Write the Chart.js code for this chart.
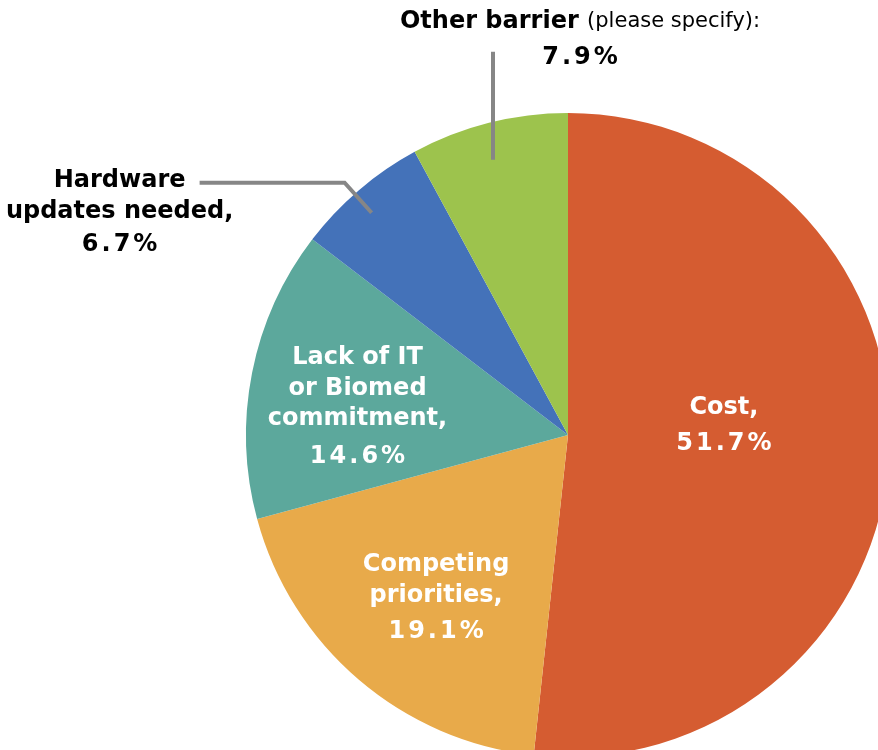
<!DOCTYPE html>
<html>
<head>
<meta charset="utf-8">
<script src="https://cdn.jsdelivr.net/npm/chart.js@4.4.1/dist/chart.umd.min.js"></script>
<style>
  html, body { margin: 0; padding: 0; background: #fff; overflow: hidden; }
  #wrap { position: absolute; left: 0; top: 0; width: 900px; height: 770px; }
</style>
</head>
<body>
<div id="wrap"><canvas id="pie" width="900" height="770"></canvas></div>
<script>
// chart data
var categories = ['Cost', 'Competing priorities', 'Lack of IT or Biomed commitment', 'Hardware updates needed', 'Other barrier'];
var values = [51.7, 19.1, 14.6, 6.7, 7.9];
var sliceColors = ['#D55C31', '#E8AA4A', '#5CA89C', '#4472B9', '#9DC34D'];

// label layout, anchored on each slice's mid angle
var labelSetup = [
  { f: 0.485, color: '#fff', lines: [['Cost,', 0, -36], ['51.7%', 0, 0]] },
  { f: 0.65, color: '#fff', lines: [['Competing', 4, -29], ['priorities,', 4, 2], ['19.1%', 4, 38]] },
  { f: 0.66, color: '#fff', lines: [['Lack of IT', -2, -36], ['or Biomed', -2, -5], ['commitment,', -2, 25], ['14.6%', -2, 63]] },
  { f: 0.92, color: '#000', leader: [[-4, 3], [-31, -27], [-176, -27]],
    lines: [['Hardware', -256, -29], ['updates needed,', -256, 2], ['6.7%', -256, 35]] },
  { f: 0.885, color: '#000', leader: [[-5, 1], [-5, -107]],
    lines: [[['Other barrier ', '(please specify):'], 82, -137], ['7.9%', 82, -101]] }
];

var boldFont = 'bold 24px "DejaVu Sans", Verdana, sans-serif';
var plainFont = '21px "DejaVu Sans", Verdana, sans-serif';

var sliceLabels = {
  id: 'sliceLabels',
  afterDatasetsDraw: function(chart) {
    var ctx = chart.ctx;
    var arcs = chart.getDatasetMeta(0).data;
    arcs.forEach(function(arc, i) {
      var cfg = labelSetup[i];
      var p = arc.getProps(['x', 'y', 'startAngle', 'endAngle', 'outerRadius'], true);
      var mid = (p.startAngle + p.endAngle) / 2;
      var ax = p.x + Math.cos(mid) * p.outerRadius * cfg.f;
      var ay = p.y + Math.sin(mid) * p.outerRadius * cfg.f;
      ctx.save();
      if (cfg.leader) {
        ctx.strokeStyle = '#868686';
        ctx.lineWidth = 4;
        ctx.beginPath();
        cfg.leader.forEach(function(pt, k) {
          if (k === 0) ctx.moveTo(ax + pt[0], ay + pt[1]);
          else ctx.lineTo(ax + pt[0], ay + pt[1]);
        });
        ctx.stroke();
      }
      ctx.fillStyle = cfg.color;
      ctx.textBaseline = 'middle';
      cfg.lines.forEach(function(ln) {
        var tx = ax + ln[1], ty = ay + ln[2];
        if (Array.isArray(ln[0])) {
          ctx.letterSpacing = '0px';
          ctx.font = boldFont;
          var w1 = ctx.measureText(ln[0][0]).width;
          ctx.font = plainFont;
          var w2 = ctx.measureText(ln[0][1]).width;
          var x0 = tx - (w1 + w2) / 2;
          ctx.textAlign = 'left';
          ctx.font = boldFont;
          ctx.fillText(ln[0][0], x0, ty);
          ctx.font = plainFont;
          ctx.fillText(ln[0][1], x0 + w1, ty);
        } else {
          ctx.font = boldFont;
          ctx.textAlign = 'center';
          // numbers are wider in the original face
          var sp = /%$/.test(ln[0]) ? 3 : 0;
          ctx.letterSpacing = sp + 'px';
          ctx.fillText(ln[0], tx + sp / 2, ty);
        }
      });
      ctx.restore();
    });
  }
};

new Chart(document.getElementById('pie'), {
  type: 'pie',
  data: {
    labels: categories,
    datasets: [{
      data: values,
      backgroundColor: sliceColors,
      borderWidth: 0
    }]
  },
  options: {
    responsive: false,
    animation: false,
    layout: { padding: { left: 246, right: 10, top: 113, bottom: 13 } },
    plugins: {
      legend: { display: false },
      tooltip: { enabled: false }
    }
  },
  plugins: [sliceLabels]
});
</script>
</body>
</html>
